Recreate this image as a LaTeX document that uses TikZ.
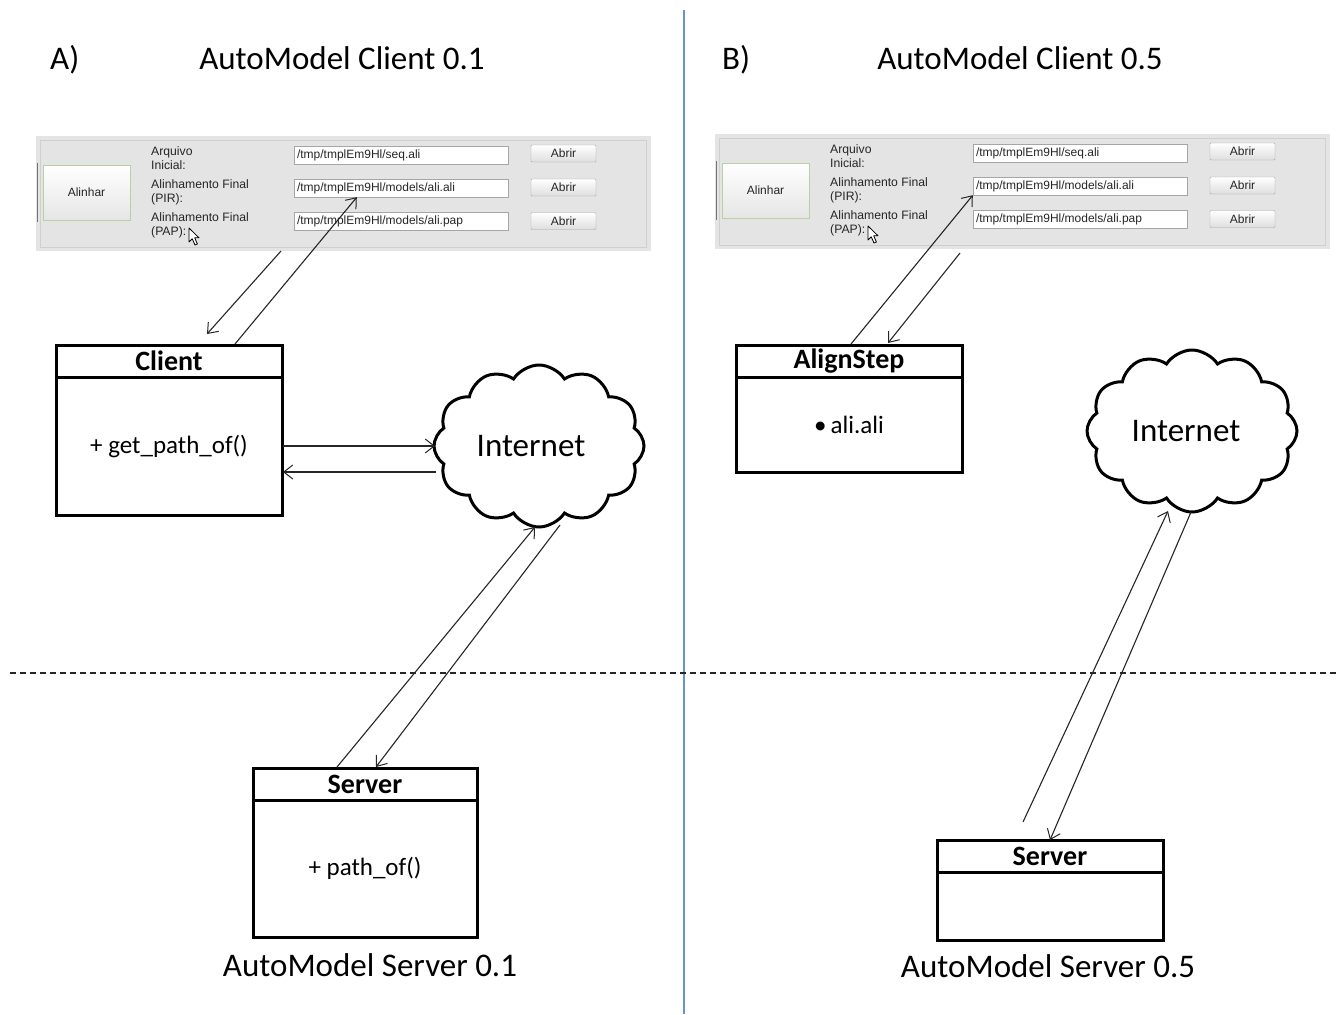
\documentclass[tikz,border=0pt]{standalone}
\usepackage{fontspec}
\setmainfont{Carlito}
\newfontfamily\guifont{Liberation Sans}
\usetikzlibrary{arrows.meta,shapes.symbols,calc}

\definecolor{divblue}{HTML}{6594CF}
\definecolor{panelgray}{HTML}{E4E4E4}
\definecolor{panelline}{HTML}{CFCFCF}
\definecolor{btnline}{HTML}{A6A6A6}
\definecolor{alinline}{HTML}{B4D2A4}

\tikzset{
  title/.style={font=\fontsize{33}{36}\selectfont, inner sep=0pt},
  guitext/.style={font=\guifont\fontsize{12.2}{14}\selectfont, text=black!85, inner sep=0pt, align=left},
  panel/.style={fill=panelgray, draw=none, minimum width=615pt, minimum height=115pt, inner sep=0pt},
  field/.style={draw=btnline, fill=white, minimum width=214pt, minimum height=18pt, inner xsep=3pt, inner ysep=0pt,
    text width=208pt, text height=9pt, text depth=2.5pt, align=left,
    font=\guifont\fontsize{12}{12}\selectfont, text=black!85},
  abrir/.style={draw=btnline, top color=white, bottom color=black!13, minimum width=65pt, minimum height=17pt,
    inner sep=0pt, rounded corners=1pt, font=\guifont\fontsize{12}{12}\selectfont, text=black!85},
  alinhar/.style={draw=alinline, line width=1pt, top color=white, bottom color=black!10, minimum width=87pt,
    minimum height=55pt, inner sep=0pt, font=\guifont\fontsize{12}{12}\selectfont, text=black!85},
  classhead/.style={draw, line width=3pt, fill=white, minimum width=226pt, minimum height=32pt, inner sep=0pt,
    outer sep=0pt, font=\bfseries\fontsize{28}{30}\selectfont},
  classbody/.style={draw, line width=3pt, fill=white, minimum width=226pt, inner sep=0pt, outer sep=0pt,
    anchor=north, font=\fontsize{25}{28}\selectfont},
  net/.style={cloud, draw, line width=3pt, fill=white, cloud puffs=12, cloud puff arc=115, cloud ignores aspect,
    minimum width=210pt, minimum height=162pt, inner sep=0pt, outer sep=0pt, font=\fontsize{33}{36}\selectfont},
  arr/.style={-{Straight Barb[length=9pt,width=14pt,line width=1pt]}, line width=1.1pt, draw=black!85},
  pointer/.style={fill=white, draw=black, line width=0.8pt, line join=round},
}

% the alignment dialog, drawn once per version; #1 suffixes the node names
\newcommand\GuiPanel[1]{%
  \node[panel] (gui#1) at (343.5,193.5) {};
  \draw[panelline, line width=0.8pt] (40,140) rectangle (646,247);
  \draw[black!55, line width=1.5pt] (37.5,163) -- (37.5,222);
  \node[alinhar] (alin#1) at (86.5,192.5) {Alinhar};
  \node[guitext, anchor=west] (lab#1a) at (151,158) {Arquivo\\Inicial:};
  \node[guitext, anchor=west] (lab#1b) at (151,192) {Alinhamento Final\\(PIR):};
  \node[guitext, anchor=west] (lab#1c) at (151,225.5) {Alinhamento Final\\(PAP):};
  \node[field] (field#1a) at (401,155) {/tmp/tmplEm9Hl/seq.ali};
  \node[field] (field#1b) at (401,188) {/tmp/tmplEm9Hl/models/ali.ali};
  \node[field] (field#1c) at (401,221) {/tmp/tmplEm9Hl/models/ali.pap};
  \node[abrir] (abrir#1a) at (563.5,153.5) {Abrir};
  \node[abrir] (abrir#1b) at (563.5,187.5) {Abrir};
  \node[abrir] (abrir#1c) at (563.5,221) {Abrir};
  \draw[pointer] (189,228) -- (189,242) -- (192.2,238.8) -- (195,245) -- (197.4,244) -- (194.7,237.8) -- (199,237.8) -- cycle;
}

\begin{document}
\begin{tikzpicture}[x=1pt,y=-1pt]
\useasboundingbox (0,0) rectangle (1337,1014);
\fill[white] (0,0) rectangle (1337,1014);

% separators
\draw[divblue, line width=1.4pt] (684,10) -- (684,1014);
\draw[black!85, line width=1.3pt, dash pattern=on 6pt off 4pt] (10,673) -- (1337,673);

% ---------------- version 0.1 ----------------
\node[title, anchor=west] (labA) at (50,60) {A)};
\node[title] (titA) at (342,58) {AutoModel Client 0.1};
\begin{scope}
  \GuiPanel{A}
\end{scope}

\node[classhead] (clientH) at (169,361) {Client};
\node[classbody, minimum height=138pt] (clientB) at (clientH.south) {+ get\_path\_of()};

\node[net] (cloudA) at (539,446) {\hspace*{-16pt}Internet};

\node[classhead, minimum width=224pt] (serverAH) at (365,784) {Server};
\node[classbody, minimum width=224pt, minimum height=137pt] (serverAB) at (serverAH.south) {+ path\_of()};
\node[title] (srvA) at (370,965) {AutoModel Server 0.1};

\coordinate (gA) at (281,251);
\coordinate (cA1) at (207,334);
\coordinate (cA2) at (235,344);
\coordinate (fA) at ($(fieldAb.south west)+(63,0)$);
\draw[arr] (gA) -- (cA1);
\draw[arr] (cA2) -- (fA);

\coordinate (clA1) at ($(clientB.east)+(1,0)$);
\coordinate (clA2) at ($(clientB.east)+(1,26)$);
\coordinate (nA1) at ($(cloudA.west)+(1,0)$);
\coordinate (nA2) at ($(cloudA.west)+(2,26)$);
\draw[arr] (clA1) -- (nA1);
\draw[arr] (nA2) -- (clA2);

\coordinate (sA1) at (337,767);
\coordinate (sA2) at (376,767);
\coordinate (nA3) at (535,527);
\coordinate (nA4) at (560,525);
\draw[arr] (sA1) -- (nA3);
\draw[arr] (nA4) -- (sA2);

% ---------------- version 0.5 ----------------
\node[title, anchor=west] (labB) at (722,60) {B)};
\node[title] (titB) at (1020,58) {AutoModel Client 0.5};
\begin{scope}[shift={(679,-2)}]
  \GuiPanel{B}
\end{scope}

\node[classhead] (alignH) at (849,361) {AlignStep};
\node[classbody, minimum height=95pt] (alignB) at (alignH.south) {\textbullet\,ali.ali};

\node[net] (cloudB) at (1192,431) {\hspace*{-12pt}Internet};

\node[classhead] (serverBH) at (1050,856) {Server};
\node[classbody, minimum height=68pt] (serverBB) at (serverBH.south) {};
\node[title] (srvB) at (1048,966) {AutoModel Server 0.5};

\coordinate (aB1) at (851,344);
\coordinate (fB) at ($(fieldBb.south west)+(0,0)$);
\coordinate (gB) at (960,253);
\coordinate (aB2) at (888,343);
\draw[arr] (aB1) -- (fB);
\draw[arr] (gB) -- (aB2);

\coordinate (sB1) at (1023,822);
\coordinate (nB1) at (1168,511);
\coordinate (nB2) at (1191,512);
\coordinate (sB2) at (1050,840);
\draw[arr] (sB1) -- (nB1);
\draw[arr] (nB2) -- (sB2);
\end{tikzpicture}
\end{document}
